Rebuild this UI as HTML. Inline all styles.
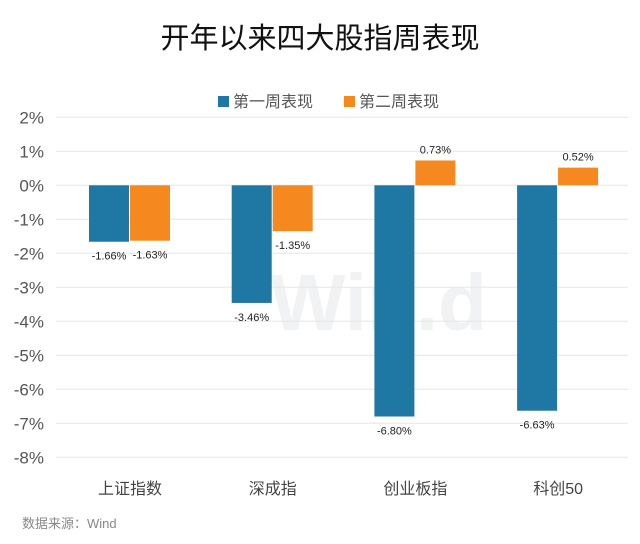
<!DOCTYPE html>
<html><head><meta charset="utf-8"><style>
body{margin:0;background:#fff;width:640px;height:539px;overflow:hidden}
svg text{font-family:"Liberation Sans","Noto Sans CJK SC",sans-serif}
</style></head><body>
<svg width="640" height="539">
<text x="320" y="48" text-anchor="middle" font-size="29" fill="#111">开年以来四大股指周表现</text>
<g>
<rect x="218" y="96" width="11" height="11" fill="#1f77a3"/>
<text x="233" y="107" font-size="16" fill="#555">第一周表现</text>
<rect x="344" y="96" width="11" height="11" fill="#f5891f"/>
<text x="359" y="107" font-size="16" fill="#555">第二周表现</text>
</g>
<text x="270" y="330" font-size="80" font-weight="bold" fill="#f1f2f4">Win.d</text>
<g id="grid"></g><g id="bars"></g><g id="labels"></g>
<text x="22" y="528" font-size="13" fill="#888">数据来源：Wind</text>
</svg>
<script>
const categories=["上证指数","深成指","创业板指","科创50"];
const week1=[-1.66,-3.46,-6.80,-6.63];
const week2=[-1.63,-1.35,0.73,0.52];
const ticks=[2,1,0,-1,-2,-3,-4,-5,-6,-7,-8];
const NS="http://www.w3.org/2000/svg";
const y=v=>185.3-v*34;
const cx=i=>130+i*142.7;
function mk(tag,attrs,parent,text){const e=document.createElementNS(NS,tag);for(const k in attrs)e.setAttribute(k,attrs[k]);if(text!=null)e.textContent=text;document.getElementById(parent).appendChild(e);return e;}
ticks.forEach(t=>{
 const l=mk('line',{x1:56,x2:628,y1:y(t),y2:y(t),stroke:'#e6e6e6','stroke-width':1},'grid');
 
 
 const tx=mk('text',{x:44,y:y(t)+6,'text-anchor':'end','font-size':17,fill:'#555'},'grid',t+'%');
 
 
});
categories.forEach((c,i)=>{
 [[week1,'#1f77a3',-41],[week2,'#f5891f',0]].forEach(([arr,col,off],s)=>{
  const v=arr[i],y0=y(Math.max(v,0)),h=Math.abs(y(v)-y(0));
  const r=mk('rect',{x:cx(i)+off,y:y0,width:40,height:h,fill:col},'bars');
  
  
  const ly=v<0?y(v)+18:y(v)-7;
  const lx=cx(i)+off+20;
  const t=mk('text',{x:lx,y:ly,'text-anchor':'middle','font-size':11,fill:'#222'},'labels',v.toFixed(2)+'%');
  
  
 });
 const ct=mk('text',{x:cx(i),y:494,'text-anchor':'middle','font-size':16,fill:'#444'},'labels',c);
 
 
});
</script>
</body></html>
